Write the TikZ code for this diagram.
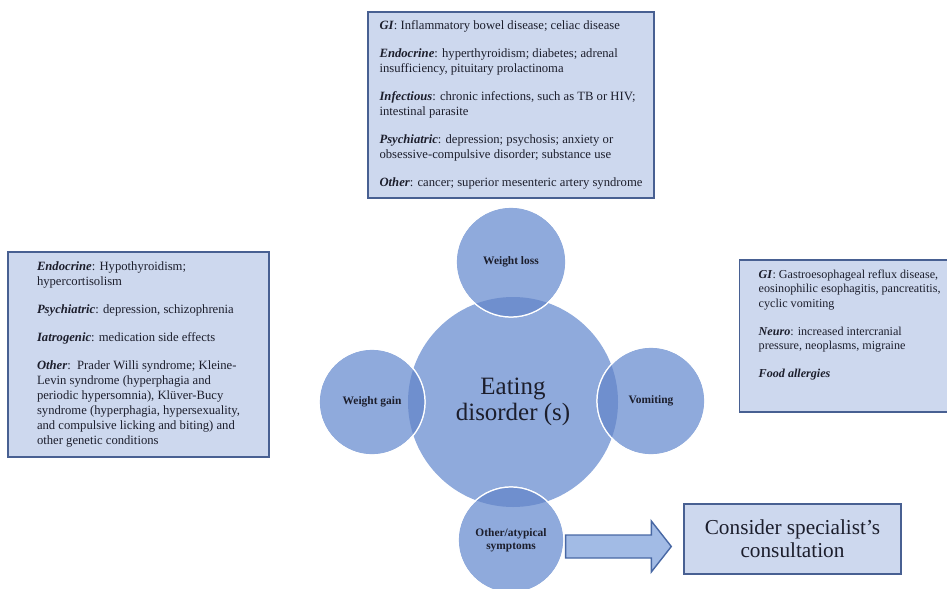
\documentclass[tikz,border=0pt]{standalone}
\usepackage{fontspec}
\setmainfont{Liberation Serif}
\usetikzlibrary{positioning, calc}

\definecolor{ringfill}{RGB}{143,170,220}
\definecolor{ringdark}{RGB}{111,143,206}
\definecolor{boxfill}{RGB}{205,216,238}
\definecolor{boxline}{RGB}{72,96,146}
\definecolor{arrowfill}{RGB}{162,187,229}
\definecolor{arrowline}{RGB}{72,104,164}
\definecolor{ink}{RGB}{28,30,44}

\newcommand{\grp}[1]{\textbf{\textit{#1}}}

\begin{document}
\begin{tikzpicture}[
		ring/.style={circle, fill=ringfill, inner sep=0pt, align=center, text=ink, font=\fontsize{6.5}{7.5}\selectfont\bfseries},
		notebox/.style={draw=boxline, line width=0.8pt, fill=boxfill, align=left, text=ink, font=\fontsize{7.2}{8.5}\selectfont},
		fatarrow/.style={draw=arrowline, line width=0.8pt, fill=arrowfill},
	]
	\useasboundingbox (0,0) rectangle (18.94,-11.78);

	% circles
	\node[ring, minimum size=4.2cm, font=\fontsize{14.2}{14.7}\selectfont] at (10.26,-8.04) (eating) {Eating\\disorder (s)};
	\node[ring, draw=white, line width=0.7pt, minimum size=2.2cm]  at (10.22,-5.24) (loss)  {Weight loss};
	\node[ring, draw=white, line width=0.7pt, minimum size=2.12cm] at (7.44,-8.04)  (gain)  {Weight gain};
	\node[ring, draw=white, line width=0.7pt, minimum size=2.16cm] at (13.02,-8.02) (vomit) {Vomiting};
	\node[ring, draw=white, line width=0.7pt, minimum size=2.12cm] at (10.22,-10.8) (other) {Other/atypical\\symptoms};

	\begin{scope}
		\clip (eating.center) circle (2.1);
		\fill[ringdark]
			(loss.center)  circle (1.1)
			(gain.center)  circle (1.06)
			(vomit.center) circle (1.08)
			(other.center) circle (1.06);
	\end{scope}
	\draw[white, line width=0.7pt]
		(loss.center)  circle (1.1)
		(gain.center)  circle (1.06)
		(vomit.center) circle (1.08)
		(other.center) circle (1.06);

	% boxes
	\node[notebox, minimum width=5.72cm, minimum height=3.72cm] at (10.22,-2.1) (lossbox) {%
		\grp{GI}: Inflammatory bowel disease; celiac disease\\[7.4pt]
		\grp{Endocrine}: hyperthyroidism; diabetes; adrenal\\
		insufficiency, pituitary prolactinoma\\[7.4pt]
		\grp{Infectious}: chronic infections, such as TB or HIV;\\
		intestinal parasite\\[7.4pt]
		\grp{Psychiatric}: depression; psychosis; anxiety or\\
		obsessive-compulsive disorder; substance use\\[7.4pt]
		\grp{Other}: cancer; superior mesenteric artery syndrome};

	\node[notebox, minimum width=5.22cm, minimum height=4.1cm] at (2.77,-7.09) (gainbox) {%
		\grp{Endocrine}: Hypothyroidism;\\
		hypercortisolism\\[7.4pt]
		\grp{Psychiatric}: depression, schizophrenia\\[7.4pt]
		\grp{Iatrogenic}: medication side effects\\[7.4pt]
		\grp{Other}:\ \ Prader Willi syndrome; Kleine-\\
		Levin syndrome (hyperphagia and\\
		periodic hypersomnia), Klüver-Bucy\\
		syndrome (hyperphagia, hypersexuality,\\
		and compulsive licking and biting) and\\
		other genetic conditions};

	\node[notebox, anchor=west, inner xsep=0.38cm, minimum height=3.04cm, font=\fontsize{6.9}{8.3}\selectfont] at (14.78,-6.72) (vomitbox) {%
		\grp{GI}: Gastroesophageal reflux disease,\\
		eosinophilic esophagitis, pancreatitis,\\
		cyclic vomiting\\[7.4pt]
		\grp{Neuro}: increased intercranial\\
		pressure, neoplasms, migraine\\[7.4pt]
		\grp{Food allergies}\\[6pt]};

	\node[notebox, align=center, minimum width=4.34cm, minimum height=1.4cm, font=\fontsize{12.1}{13}\selectfont] at (15.85,-10.78) (consult) {Consider specialist's\\consultation};

	% arrow
	\coordinate (tail) at ($(other.east)+(0.02,-0.13)$);
	\draw[fatarrow] let \p1=(tail), \p2=(consult.west) in
		(\x1,\y1+0.23cm) -- (\x2-0.64cm,\y1+0.23cm) -- (\x2-0.64cm,\y1+0.51cm) -- (\x2-0.24cm,\y1)
		-- (\x2-0.64cm,\y1-0.51cm) -- (\x2-0.64cm,\y1-0.23cm) -- (\x1,\y1-0.23cm) -- cycle;

\end{tikzpicture}
\end{document}
